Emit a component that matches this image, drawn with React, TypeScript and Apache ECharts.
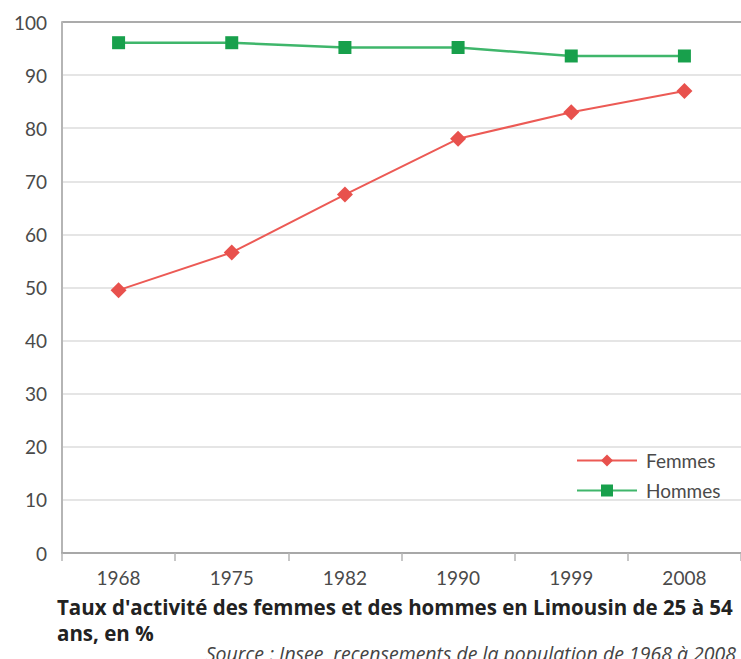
import React, { useEffect, useRef } from "react";
import * as echarts from "echarts";

const years = ["1968", "1975", "1982", "1990", "1999", "2008"];
const femmes = [49.5, 56.6, 67.5, 78.0, 83.0, 87.0];
const hommes = [96.1, 96.1, 95.2, 95.2, 93.6, 93.6];
const yTicks = [0, 10, 20, 30, 40, 50, 60, 70, 80, 90, 100];
const titleLines = [
  "Taux d'activité des femmes et des hommes en Limousin de 25 à 54",
  "ans, en %",
];
const sourceText = "Source : Insee, recensements de la population de 1968 à 2008";

export default function App() {
  const ref = useRef<HTMLDivElement>(null);
  useEffect(() => {
    document.body.style.margin = "0";
    const chart = echarts.init(ref.current!, null, { renderer: "svg" });
    const font = "Lato, 'Open Sans', sans-serif";
    const wideFont = "'Open Sans', Lato, sans-serif";
    const gridColors = yTicks.map((t) => (t === 100 ? "#8f8f8f" : "#dcdcdc"));
    chart.setOption({
      animation: false,
      backgroundColor: "#ffffff",
      grid: { left: 62, right: -4, top: 22, bottom: 106, containLabel: false },
      legend: {
        orient: "vertical",
        left: 571,
        top: 446,
        itemWidth: 60,
        itemHeight: 15,
        itemGap: 11,
        textStyle: { fontFamily: font, fontSize: 19, color: "#4a4a4a", padding: [0, 0, 0, 4] },
        data: ["Femmes", "Hommes"],
      },
      xAxis: {
        type: "category",
        data: years,
        boundaryGap: true,
        axisLine: { lineStyle: { color: "#a8a8a8", width: 2 } },
        axisTick: { show: true, length: 8, lineStyle: { color: "#b5b5b5", width: 1.5 } },
        axisLabel: { fontFamily: font, fontSize: 19, color: "#4a4a4a", margin: 15 },
      },
      yAxis: {
        type: "value",
        min: 0,
        max: 100,
        interval: 10,
        axisLine: { show: true, lineStyle: { color: "#b5b5b5", width: 2 } },
        axisTick: { show: false },
        axisLabel: { fontFamily: font, fontSize: 19, color: "#4a4a4a", margin: 15 },
        splitLine: { show: true, lineStyle: { color: gridColors, width: 1.5 } },
      },
      title: [
        {
          text: titleLines.join("\n"),
          left: 52,
          top: 589,
          textStyle: {
            fontFamily: wideFont,
            fontSize: 20.5,
            fontWeight: "bold",
            color: "#222222",
            lineHeight: 26,
          },
        },
        {
          text: sourceText,
          right: 0,
          top: 638,
          textStyle: {
            fontFamily: wideFont,
            fontSize: 19.5,
            fontStyle: "italic",
            fontWeight: "normal",
            color: "#444444",
          },
        },
      ],
      series: [
        {
          name: "Femmes",
          type: "line",
          data: femmes,
          symbol: "diamond",
          symbolSize: 16,
          color: "#e8514d",
          lineStyle: { color: "#ec5a55", width: 2 },
          itemStyle: { color: "#e8514d" },
        },
        {
          name: "Hommes",
          type: "line",
          data: hommes,
          symbol: "rect",
          symbolSize: 13,
          color: "#18a04c",
          lineStyle: { color: "#3fb66b", width: 2.5 },
          itemStyle: { color: "#18a04c" },
        },
      ],
    });
    return () => chart.dispose();
  }, []);
  return <div ref={ref} style={{ width: 741, height: 659 }} />;
}
